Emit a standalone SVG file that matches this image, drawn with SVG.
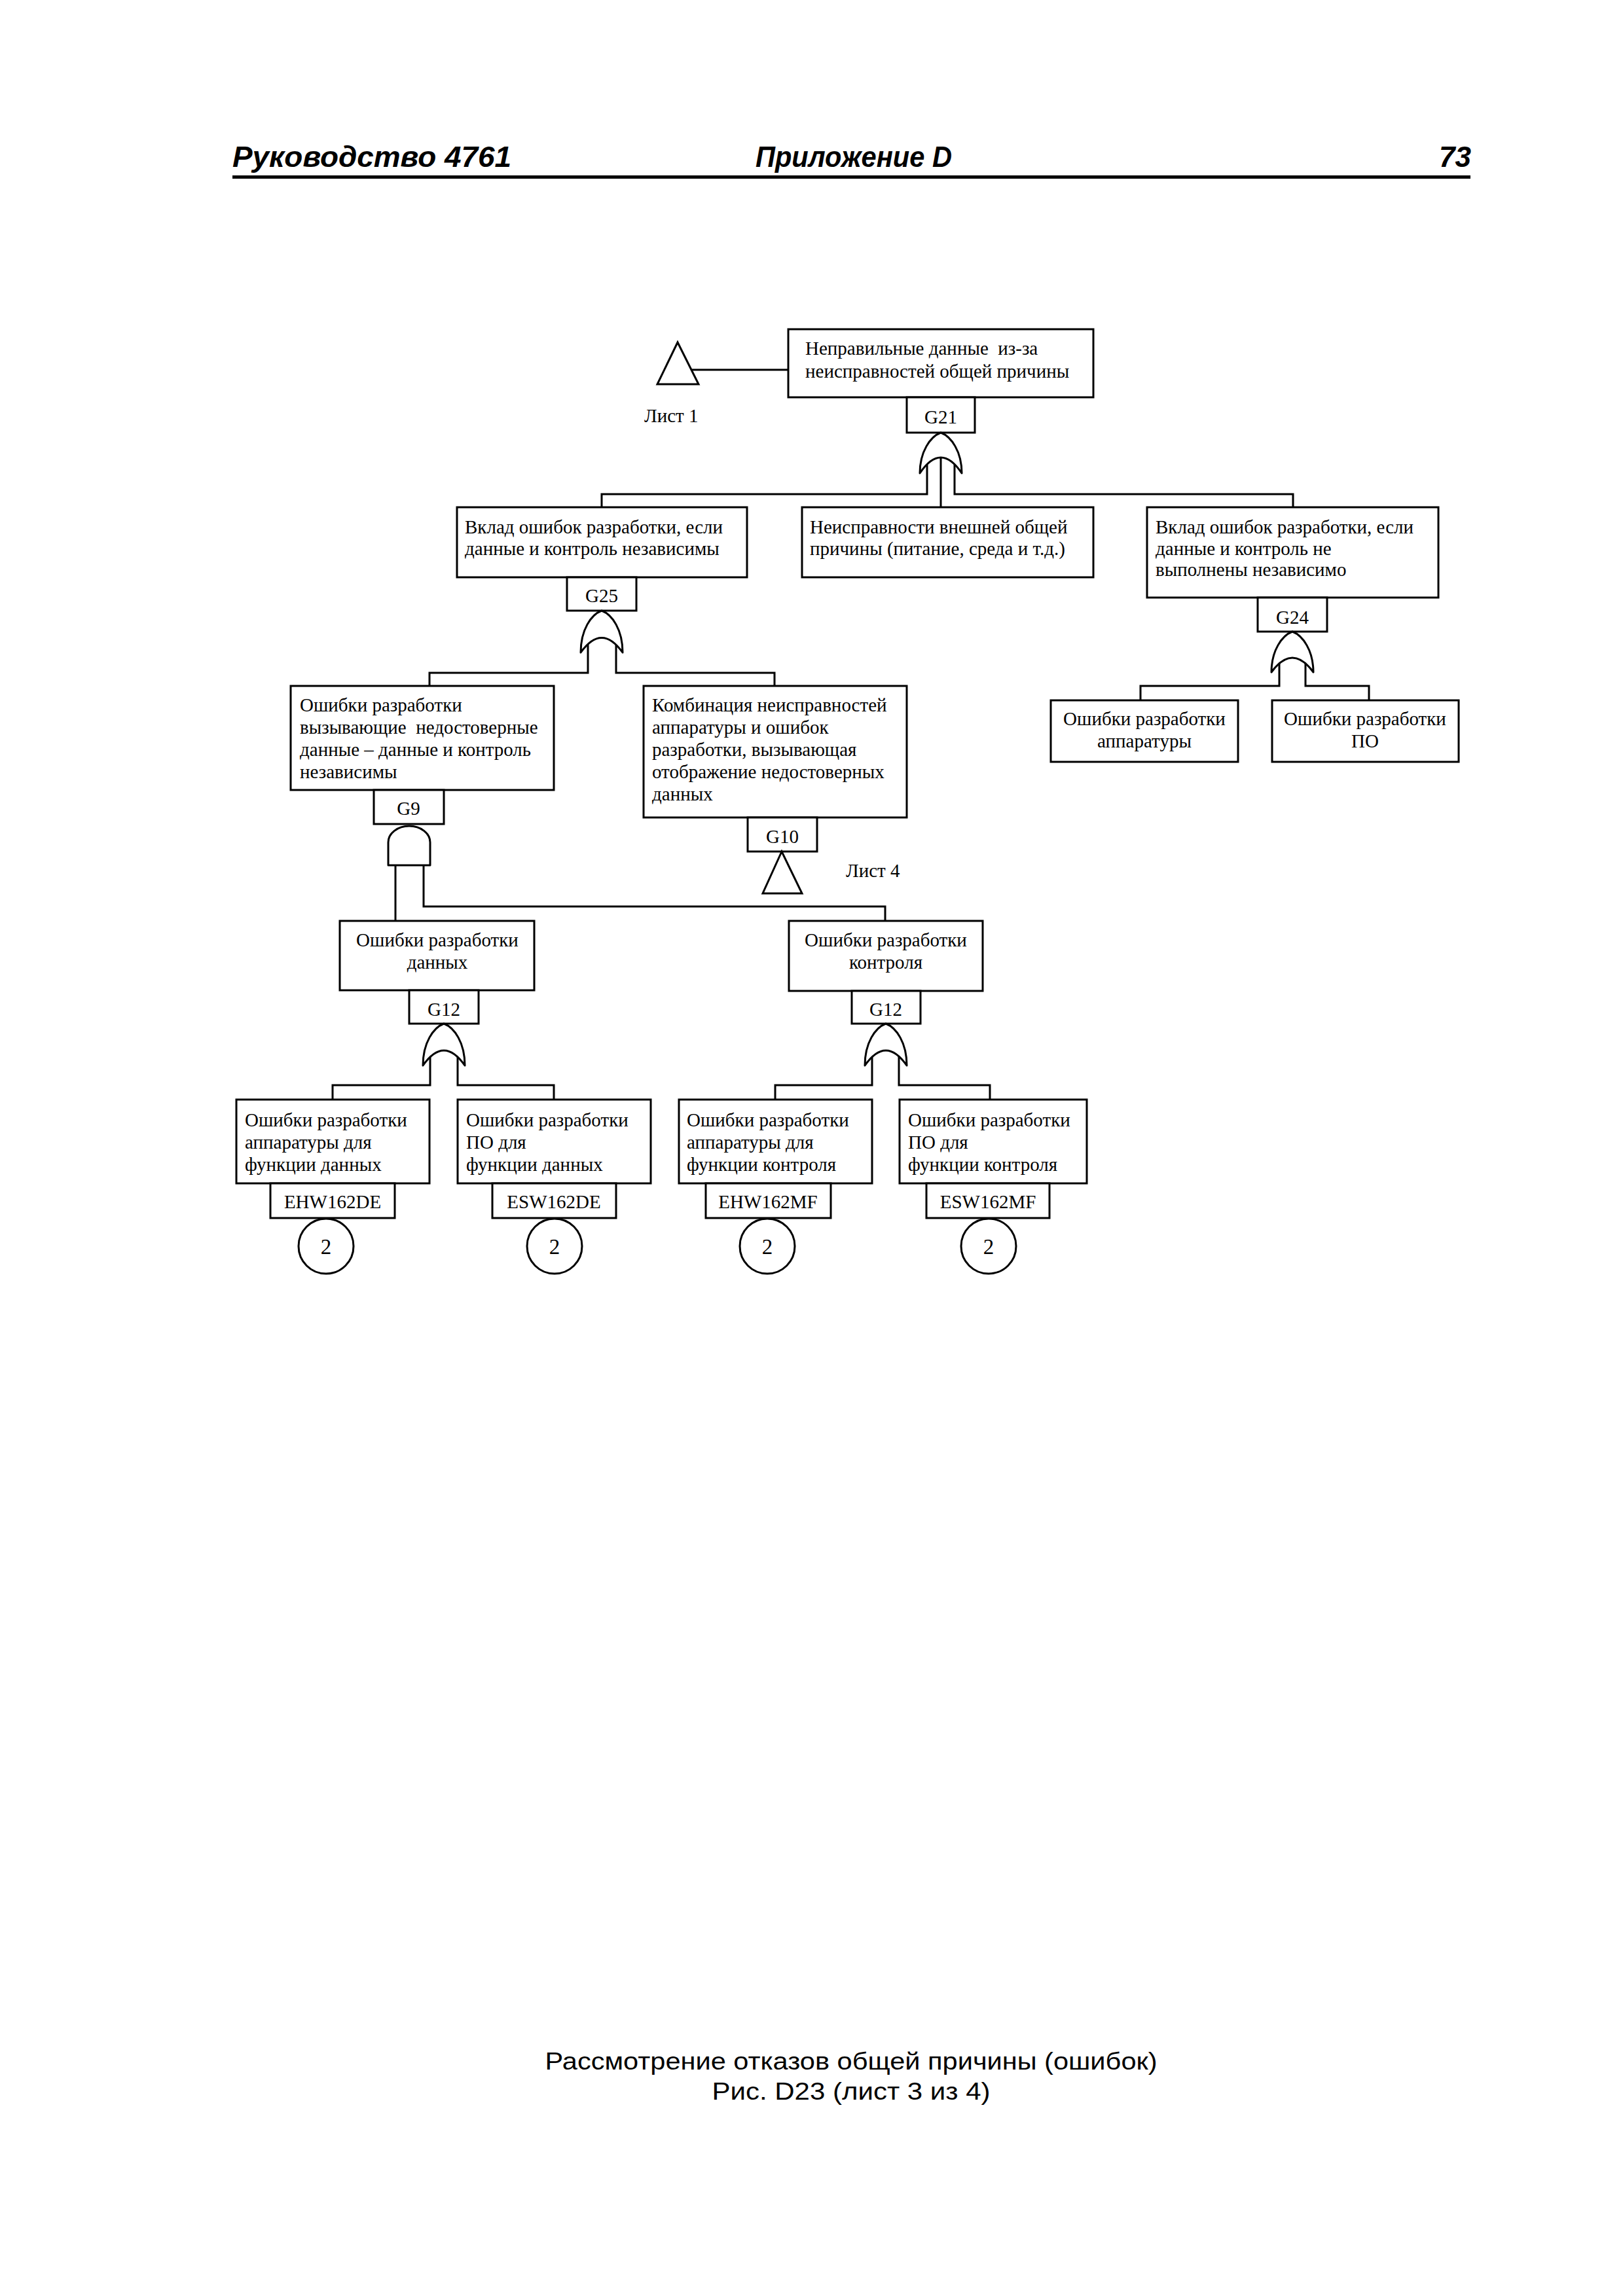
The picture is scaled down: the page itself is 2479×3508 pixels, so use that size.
<svg xmlns="http://www.w3.org/2000/svg" width="2479" height="3508" viewBox="0 0 2479 3508">
<style>
.bg{fill:#fff}
.box{fill:#fff;stroke:#000;stroke-width:3}
.ln{fill:none;stroke:#000;stroke-width:3}
.gate{fill:#fff;stroke:#000;stroke-width:3;stroke-linejoin:round}
.t{font-family:"Liberation Serif","Times New Roman",serif;font-size:29px;fill:#000;white-space:pre}
.c{text-anchor:middle}
.n{font-size:33px}
.hd{font-family:"Liberation Sans",Arial,sans-serif;font-size:44px;font-weight:bold;font-style:italic;fill:#000}
.cap{font-family:"Liberation Sans",Arial,sans-serif;font-size:37px;fill:#000;text-anchor:middle}
</style>
<rect class="bg" x="0" y="0" width="2479" height="3508"/>

<g id="header">
<text class="hd" x="355" y="255" textLength="426" lengthAdjust="spacingAndGlyphs">Руководство 4761</text>
<text class="hd" x="1154" y="255" textLength="300" lengthAdjust="spacingAndGlyphs">Приложение D</text>
<text class="hd" x="2247" y="255" text-anchor="end">73</text>
<rect x="355" y="268" width="1891" height="5" fill="#000"/>
</g>

<g id="connectors">
<line class="ln" x1="1056" y1="565" x2="1204" y2="565"/>
<polyline class="ln" points="1416,705 1416,755 919,755 919,775"/>
<polyline class="ln" points="1458,705 1458,755 1975,755 1975,775"/>
<line class="ln" x1="1437" y1="699" x2="1437" y2="775"/>
<polyline class="ln" points="898,980 898,1028 656,1028 656,1048"/>
<polyline class="ln" points="941,980 941,1028 1183,1028 1183,1048"/>
<polyline class="ln" points="1954,1010 1954,1048 1742,1048 1742,1070"/>
<polyline class="ln" points="1994,1010 1994,1048 2091,1048 2091,1070"/>
<line class="ln" x1="604" y1="1320" x2="604" y2="1407"/>
<polyline class="ln" points="647,1320 647,1385 1352,1385 1352,1407"/>
<polyline class="ln" points="657,1610 657,1658 508,1658 508,1680"/>
<polyline class="ln" points="699,1610 699,1658 846,1658 846,1680"/>
<polyline class="ln" points="1332,1610 1332,1658 1184,1658 1184,1680"/>
<polyline class="ln" points="1373,1610 1373,1658 1512,1658 1512,1680"/>
</g>

<g id="node-top">
<rect class="box" x="1204" y="503" width="466" height="104"/>
<text class="t" x="1230" y="542">Неправильные данные  из-за</text>
<text class="t" x="1230" y="577">неисправностей общей причины</text>
</g>
<g id="transfer-sheet1">
<polygon class="ln" points="1035,523 1004,587 1067,587"/>
<text class="t" x="984" y="645">Лист 1</text>
</g>
<g id="G21">
<rect class="box" x="1385" y="607" width="104" height="54"/>
<text class="t c" x="1437" y="647">G21</text>
<path class="gate" d="M1437,661 C1421,667 1405,690 1405,723 Q1437,675 1469,723 C1469,690 1453,667 1437,661 Z"/>
</g>

<g id="node-L1">
<rect class="box" x="698" y="775" width="443" height="107"/>
<text class="t" x="710" y="815">Вклад ошибок разработки, если</text>
<text class="t" x="710" y="848">данные и контроль независимы</text>
</g>
<g id="node-M">
<rect class="box" x="1225" y="775" width="445" height="107"/>
<text class="t" x="1237" y="815">Неисправности внешней общей</text>
<text class="t" x="1237" y="848">причины (питание, среда и т.д.)</text>
</g>
<g id="node-R">
<rect class="box" x="1752" y="775" width="445" height="138"/>
<text class="t" x="1765" y="815">Вклад ошибок разработки, если</text>
<text class="t" x="1765" y="848">данные и контроль не</text>
<text class="t" x="1765" y="880">выполнены независимо</text>
</g>

<g id="G25">
<rect class="box" x="866" y="882" width="106" height="51"/>
<text class="t c" x="919" y="920">G25</text>
<path class="gate" d="M919,933 C903,939 887,962 887,997 Q919,952 951,997 C951,962 935,939 919,933 Z"/>
</g>
<g id="G24">
<rect class="box" x="1921" y="913" width="106" height="52"/>
<text class="t c" x="1974" y="953">G24</text>
<path class="gate" d="M1974,965 C1958,971 1942,994 1942,1027 Q1974,983 2006,1027 C2006,994 1990,971 1974,965 Z"/>
</g>

<g id="node-A">
<rect class="box" x="444" y="1048" width="402" height="159"/>
<text class="t" x="458" y="1087">Ошибки разработки</text>
<text class="t" x="458" y="1121">вызывающие  недостоверные</text>
<text class="t" x="458" y="1155">данные – данные и контроль</text>
<text class="t" x="458" y="1189">независимы</text>
</g>
<g id="node-B">
<rect class="box" x="983" y="1048" width="402" height="201"/>
<text class="t" x="996" y="1087">Комбинация неисправностей</text>
<text class="t" x="996" y="1121">аппаратуры и ошибок</text>
<text class="t" x="996" y="1155">разработки, вызывающая</text>
<text class="t" x="996" y="1189">отображение недостоверных</text>
<text class="t" x="996" y="1223">данных</text>
</g>
<g id="node-HW">
<rect class="box" x="1605" y="1070" width="286" height="94"/>
<text class="t c" x="1748" y="1108">Ошибки разработки</text>
<text class="t c" x="1748" y="1142">аппаратуры</text>
</g>
<g id="node-SW">
<rect class="box" x="1943" y="1070" width="285" height="94"/>
<text class="t c" x="2085" y="1108">Ошибки разработки</text>
<text class="t c" x="2085" y="1142">ПО</text>
</g>

<g id="G9">
<rect class="box" x="571" y="1207" width="107" height="52"/>
<text class="t c" x="624" y="1245">G9</text>
<path class="gate" d="M593,1322 L593,1287 A32,25 0 0 1 657,1287 L657,1322 Z"/>
</g>
<g id="G10">
<rect class="box" x="1142" y="1249" width="106" height="52"/>
<text class="t c" x="1195" y="1288">G10</text>
<polygon class="ln" points="1194,1301 1165,1365 1225,1365"/>
<text class="t" x="1292" y="1340">Лист 4</text>
</g>

<g id="node-DD">
<rect class="box" x="519" y="1407" width="297" height="106"/>
<text class="t c" x="668" y="1446">Ошибки разработки</text>
<text class="t c" x="668" y="1480">данных</text>
</g>
<g id="node-DC">
<rect class="box" x="1205" y="1407" width="296" height="107"/>
<text class="t c" x="1353" y="1446">Ошибки разработки</text>
<text class="t c" x="1353" y="1480">контроля</text>
</g>

<g id="G12-data">
<rect class="box" x="625" y="1513" width="106" height="51"/>
<text class="t c" x="678" y="1552">G12</text>
<path class="gate" d="M678,1564 C662,1570 646,1593 646,1628 Q678,1582 710,1628 C710,1593 694,1570 678,1564 Z"/>
</g>
<g id="G12-control">
<rect class="box" x="1301" y="1514" width="105" height="50"/>
<text class="t c" x="1353" y="1552">G12</text>
<path class="gate" d="M1353,1564 C1337,1570 1321,1593 1321,1628 Q1353,1582 1385,1628 C1385,1593 1369,1570 1353,1564 Z"/>
</g>

<g id="node-EHW162DE">
<rect class="box" x="361" y="1680" width="295" height="128"/>
<text class="t" x="374" y="1721">Ошибки разработки</text>
<text class="t" x="374" y="1755">аппаратуры для</text>
<text class="t" x="374" y="1789">функции данных</text>
<rect class="box" x="413" y="1808" width="190" height="53"/>
<text class="t c" x="508" y="1846">EHW162DE</text>
<circle class="box" cx="498" cy="1904" r="42"/>
<text class="t c n" x="498" y="1916">2</text>
</g>
<g id="node-ESW162DE">
<rect class="box" x="699" y="1680" width="295" height="128"/>
<text class="t" x="712" y="1721">Ошибки разработки</text>
<text class="t" x="712" y="1755">ПО для</text>
<text class="t" x="712" y="1789">функции данных</text>
<rect class="box" x="752" y="1808" width="189" height="53"/>
<text class="t c" x="846" y="1846">ESW162DE</text>
<circle class="box" cx="847" cy="1904" r="42"/>
<text class="t c n" x="847" y="1916">2</text>
</g>
<g id="node-EHW162MF">
<rect class="box" x="1037" y="1680" width="295" height="128"/>
<text class="t" x="1049" y="1721">Ошибки разработки</text>
<text class="t" x="1049" y="1755">аппаратуры для</text>
<text class="t" x="1049" y="1789">функции контроля</text>
<rect class="box" x="1078" y="1808" width="191" height="53"/>
<text class="t c" x="1173" y="1846">EHW162MF</text>
<circle class="box" cx="1172" cy="1904" r="42"/>
<text class="t c n" x="1172" y="1916">2</text>
</g>
<g id="node-ESW162MF">
<rect class="box" x="1374" y="1680" width="286" height="128"/>
<text class="t" x="1387" y="1721">Ошибки разработки</text>
<text class="t" x="1387" y="1755">ПО для</text>
<text class="t" x="1387" y="1789">функции контроля</text>
<rect class="box" x="1415" y="1808" width="188" height="53"/>
<text class="t c" x="1509" y="1846">ESW162MF</text>
<circle class="box" cx="1510" cy="1904" r="42"/>
<text class="t c n" x="1510" y="1916">2</text>
</g>

<g id="caption">
<text class="cap" x="1300" y="3162" textLength="935" lengthAdjust="spacingAndGlyphs">Рассмотрение отказов общей причины (ошибок)</text>
<text class="cap" x="1300" y="3208" textLength="425" lengthAdjust="spacingAndGlyphs">Рис. D23 (лист 3 из 4)</text>
</g>
</svg>
